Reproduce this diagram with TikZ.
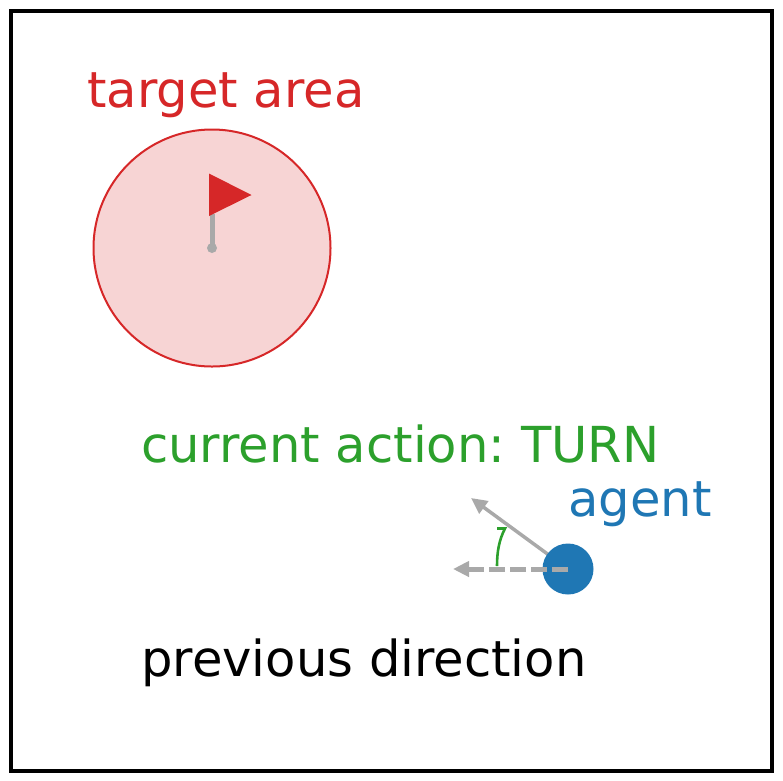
\documentclass[tikz,border=0pt]{standalone}
\usepackage{fontspec}
\setmainfont{DejaVu Sans}
\usetikzlibrary{arrows.meta}
\definecolor{mred}{HTML}{D62728}
\definecolor{mblue}{HTML}{1F77B4}
\definecolor{mgreen}{HTML}{2CA02C}
\definecolor{mgrey}{HTML}{A9A9A9}
\tikzset{
  lbl/.style={anchor=base west,inner sep=0pt,font=\fontsize{49.6}{50}\selectfont},
  dirtip/.style={-{Triangle[length=16pt,width=15pt]}},
}
\frenchspacing
\begin{document}
\begin{tikzpicture}[x=1pt,y=-1pt]
\useasboundingbox (0,0) rectangle (783,780);
\draw[line width=4.5pt] (11,11) rectangle (772,771);
\node[circle,draw=mred,fill=mred!20,line width=2pt,minimum size=237pt,inner sep=0pt] (area) at (212,248) {};
\coordinate (poleTop) at (212,214);
\coordinate (poleFoot) at (212,248);
\draw[draw=mgrey,line width=5pt] (poleFoot) -- (poleTop);
\node[circle,fill=mgrey,minimum size=10pt,inner sep=0pt] (poleDot) at (poleFoot) {};
\fill[mred] (209,173.5) -- (251.5,195) -- (209,216) -- cycle;
\coordinate (agentC) at (568,569);
\coordinate (newEnd) at (471,498);
\coordinate (prevEnd) at (453,569);
\draw[draw=mgrey,line width=3.5pt,dirtip] (agentC) -- (newEnd);
\node[circle,fill=mblue,minimum size=51pt,inner sep=0pt] (agent) at (agentC) {};
\draw[draw=mgrey,line width=5pt,dirtip,dash pattern=on 16pt off 5pt] (agentC) -- (prevEnd);
\coordinate (arcStart) at (497,566);
\coordinate (arcEnd) at (505,528.5);
\coordinate (barbEnd) at (497,528.5);
\draw[mgreen,line width=2.6pt] (arcStart) .. controls (497,552) and (499,540) .. (arcEnd) -- (barbEnd);
\node[lbl,text=mred] (targetLabel) at (87,107.5) {target area};
\node[lbl,text=mgreen] (actionLabel) at (141,462) {current action: TURN};
\node[lbl,text=mblue] (agentLabel) at (568,516.5) {agent};
\node[lbl,text=black] (prevLabel) at (141,676.5) {previous direction};
\end{tikzpicture}
\end{document}
